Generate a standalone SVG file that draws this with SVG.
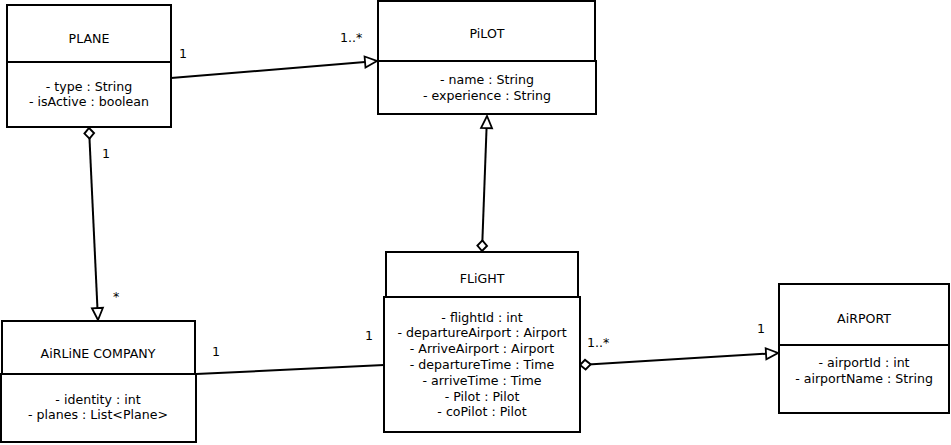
<svg xmlns="http://www.w3.org/2000/svg" width="951" height="445" viewBox="0 0 951 445">
<style>
text{font-family:"DejaVu Sans","Liberation Sans",sans-serif;font-size:12.6px;fill:#000}
.c{text-anchor:middle}
.box{fill:#fff;stroke:#000;stroke-width:2}
.conn{fill:none;stroke:#000;stroke-width:2}
</style>
<defs>
<marker id="tri" markerUnits="userSpaceOnUse" markerWidth="16" markerHeight="16" viewBox="-2 -2 16 15" refX="12" refY="5.5" orient="auto">
<path d="M0,0 L12,5.5 L0,11 Z" fill="#fff" stroke="#000" stroke-width="1.8"/>
</marker>
<marker id="dia" markerUnits="userSpaceOnUse" markerWidth="16" markerHeight="16" viewBox="-2 -2 15 14" refX="0" refY="5" orient="auto">
<path d="M0,5 L5,0.5 L10,5 L5,9.5 Z" fill="#fff" stroke="#000" stroke-width="1.8"/>
</marker>
</defs>
<rect width="951" height="445" fill="#fff"/>
<g id="connectors">
<path class="conn" d="M171,78 L377,61" marker-end="url(#tri)"/>
<path class="conn" d="M89,128 L98,320" marker-start="url(#dia)" marker-end="url(#tri)"/>
<path class="conn" d="M482,251 L487,116" marker-start="url(#dia)" marker-end="url(#tri)"/>
<path class="conn" d="M580,365 L778,353" marker-start="url(#dia)" marker-end="url(#tri)"/>
<path class="conn" d="M196,374 L384,365"/>
<text x="179" y="58">1</text>
<text x="340" y="42">1..*</text>
<text x="102" y="158">1</text>
<text x="113" y="301">*</text>
<text x="212" y="356">1</text>
<text x="365" y="340">1</text>
<text x="587" y="347">1..*</text>
<text x="757" y="333">1</text>
</g>
<g id="plane">
<rect class="box" x="7" y="5" width="164" height="57"/>
<rect class="box" x="7" y="62" width="164" height="65"/>
<text class="c" x="89" y="43">PLANE</text>
<text class="c" x="89" y="91">- type : String</text>
<text class="c" x="89" y="106">- isActive : boolean</text>
</g>
<g id="pilot">
<rect class="box" x="378" y="1" width="217" height="60"/>
<rect class="box" x="378" y="61" width="218" height="53"/>
<text class="c" x="487" y="38">PiLOT</text>
<text class="c" x="487" y="84">- name : String</text>
<text class="c" x="487" y="100">- experience : String</text>
</g>
<g id="airline">
<rect class="box" x="2" y="321" width="193" height="53"/>
<rect class="box" x="1" y="374" width="195" height="68"/>
<text class="c" x="98" y="358">AiRLiNE COMPANY</text>
<text class="c" x="98" y="404">- identity : int</text>
<text class="c" x="98" y="419">- planes : List&lt;Plane&gt;</text>
</g>
<g id="flight">
<rect class="box" x="386" y="252" width="192" height="45"/>
<rect class="box" x="384" y="297" width="196" height="135"/>
<text class="c" x="482" y="283">FLiGHT</text>
<text class="c" x="482" y="321.5">- flightId : int</text>
<text class="c" x="482" y="337.3">- departureAirport : Airport</text>
<text class="c" x="482" y="353.1">- ArriveAirport : Airport</text>
<text class="c" x="482" y="369">- departureTime : Time</text>
<text class="c" x="482" y="384.8">- arriveTime : Time</text>
<text class="c" x="482" y="400.6">- Pilot : Pilot</text>
<text class="c" x="482" y="416.4">- coPilot : Pilot</text>
</g>
<g id="airport">
<rect class="box" x="779" y="284" width="170" height="61"/>
<rect class="box" x="779" y="345" width="170" height="68"/>
<text class="c" x="864" y="323">AiRPORT</text>
<text class="c" x="864" y="367">- airportId : int</text>
<text class="c" x="864" y="383">- airportName : String</text>
</g>
</svg>
